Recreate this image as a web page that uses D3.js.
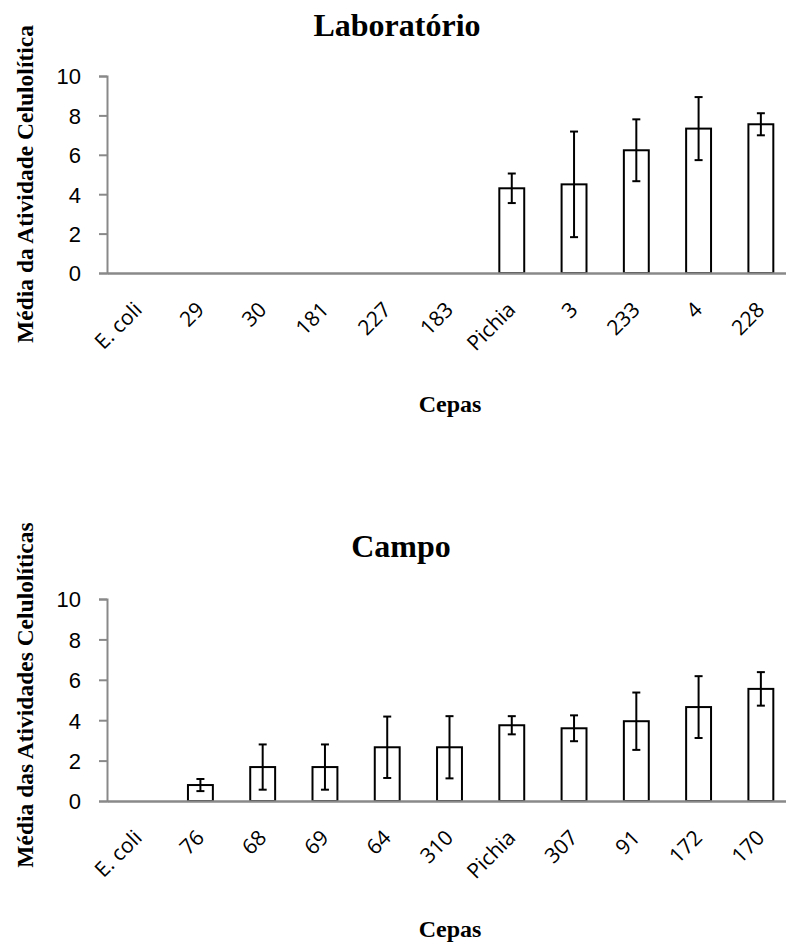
<!DOCTYPE html>
<html>
<head>
<meta charset="utf-8">
<title>Atividade Celulolítica</title>
<script src="https://cdnjs.cloudflare.com/ajax/libs/d3/7.8.5/d3.min.js"></script>
<style>
body{
margin:0;
background:#fff
}
</style>
</head>
<body>
<svg width="786" height="945"></svg>

<script>

// Laboratório
var labCats = ["E. coli","29","30","181","227","183","Pichia","3","233","4","228"]
var labMeans = [0,0,0,0,0,0,4.3,4.5,6.23,7.33,7.55]
var labErr = [0,0,0,0,0,0,0.75,2.68,1.57,1.6,0.56]

// Campo
var campoCats = ["E. coli","76","68","69","64","310","Pichia","307","91","172","170"]
var campoMeans = [0,0.79,1.68,1.68,2.66,2.66,3.75,3.6,3.95,4.65,5.55]
var campoErr = [0,0.3,1.12,1.12,1.52,1.54,0.45,0.64,1.42,1.53,0.83]

var yTicks = [0,2,4,6,8,10]

const svg = d3.select('svg')

function drawChart(cfg){
	const x = d3.scaleBand()
		.domain(cfg.cats)
		.range([107,792])
		.paddingInner(0.6)
		.paddingOuter(0.3)
	const y = d3.scaleLinear().domain([0,10]).range([cfg.bottom,cfg.top])

	const g = svg.append("g")

	// y axis
	const yAxis = g.append("g")
		.attr("transform","translate(107,0)")
		.call(d3.axisLeft(y).tickValues(yTicks).tickSize(8).tickPadding(18).tickFormat(d3.format("d")))
	yAxis.select(".domain").attr("stroke","#898989").attr("stroke-width",2)
	yAxis.selectAll(".tick line").attr("stroke","#898989").attr("stroke-width",2)
	yAxis.selectAll(".tick text")
		.attr("font-family","'Liberation Sans', Arial, sans-serif")
		.attr("font-size",22)
		.attr("fill","#000")
		.attr("dy","0.36em")

	const data = cfg.cats.map((c,i) => ({cat:c, v:cfg.means[i], e:cfg.errs[i]}))

	// bars
	g.append("g")
		.selectAll("rect")
		.data(data.filter(d => d.v > 0))
		.join("rect")
		.attr("x", d => x(d.cat))
		.attr("y", d => y(d.v))
		.attr("width", x.bandwidth())
		.attr("height", d => y(0) - y(d.v))
		.attr("fill","#fff")
		.attr("stroke","#000")
		.attr("stroke-width",2)

	// error bars
	const eb = g.append("g")
		.attr("stroke","#000")
		.attr("stroke-width",2)
		.selectAll("g")
		.data(data.filter(d => d.e > 0))
		.join("g")
	eb.append("line")
		.attr("x1", d => x(d.cat) + x.bandwidth()/2)
		.attr("x2", d => x(d.cat) + x.bandwidth()/2)
		.attr("y1", d => y(d.v + d.e))
		.attr("y2", d => y(d.v - d.e))
	eb.append("line")
		.attr("x1", d => x(d.cat) + x.bandwidth()/2 - 4)
		.attr("x2", d => x(d.cat) + x.bandwidth()/2 + 4)
		.attr("y1", d => y(d.v + d.e))
		.attr("y2", d => y(d.v + d.e))
	eb.append("line")
		.attr("x1", d => x(d.cat) + x.bandwidth()/2 - 4)
		.attr("x2", d => x(d.cat) + x.bandwidth()/2 + 4)
		.attr("y1", d => y(d.v - d.e))
		.attr("y2", d => y(d.v - d.e))

	// x axis
	const xAxis = g.append("g")
		.attr("transform","translate(0," + cfg.bottom + ")")
		.call(d3.axisBottom(x).tickSize(0).tickPadding(0))
	xAxis.select(".domain").attr("stroke","#898989").attr("stroke-width",2.5)
	xAxis.selectAll(".tick text")
		.attr("font-family","'Open Sans', sans-serif")
		.attr("font-size",21)
		.attr("fill","#000")
		.attr("text-anchor","end")
		.attr("dy",null)
		.attr("y",null)
		.attr("transform","translate(5,38) rotate(-45)")

	// titles
	g.append("text")
		.attr("x",cfg.titleX).attr("y",cfg.titleY)
		.attr("text-anchor","middle")
		.attr("font-family","'Liberation Serif', 'Times New Roman', serif")
		.attr("font-weight","bold")
		.attr("font-size",32)
		.text(cfg.title)

	g.append("text")
		.attr("transform","translate(33," + cfg.yTitleY + ") rotate(-90)")
		.attr("text-anchor","middle")
		.attr("font-family","'Liberation Serif', 'Times New Roman', serif")
		.attr("font-weight","bold")
		.attr("font-size",23.5)
		.text(cfg.yTitle)

	g.append("text")
		.attr("x",450).attr("y",cfg.xTitleY)
		.attr("text-anchor","middle")
		.attr("font-family","'Liberation Serif', 'Times New Roman', serif")
		.attr("font-weight","bold")
		.attr("font-size",24)
		.text("Cepas")
}

drawChart({
	cats: labCats, means: labMeans, errs: labErr,
	top: 76, bottom: 273,
	title: "Laboratório", titleX: 397, titleY: 36,
	yTitle: "Média da Atividade Celulolítica", yTitleY: 184,
	xTitleY: 412
})

drawChart({
	cats: campoCats, means: campoMeans, errs: campoErr,
	top: 599, bottom: 801,
	title: "Campo", titleX: 401, titleY: 557,
	yTitle: "Média das Atividades Celulolíticas", yTitleY: 695,
	xTitleY: 937
})

</script>
</body>
</html>
